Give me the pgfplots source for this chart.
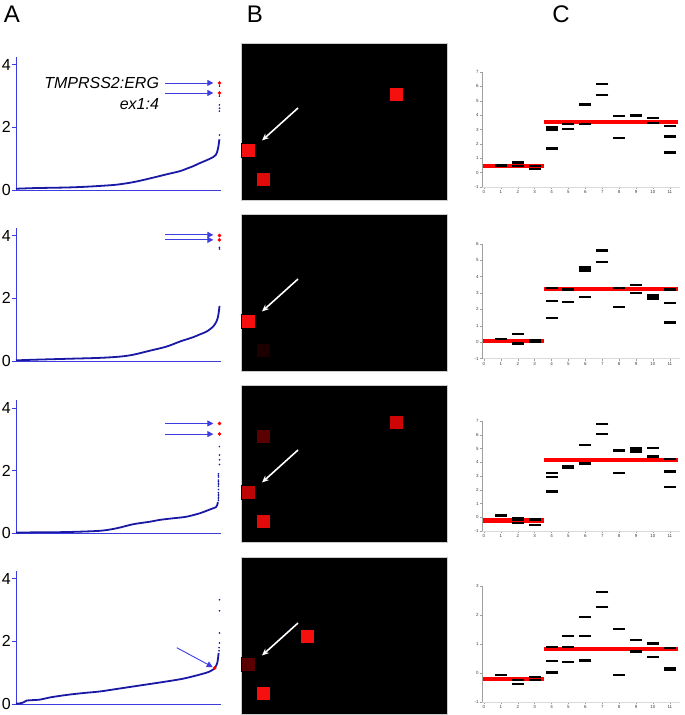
\documentclass[border=0pt]{standalone}
\usepackage{fontspec}
\setmainfont{Liberation Sans}
\setsansfont{Liberation Sans}
\usepackage{pgfplots}
\pgfplotsset{compat=1.18}
\usetikzlibrary{arrows.meta}
\definecolor{curveblue}{RGB}{25,25,165}
\definecolor{axblue}{RGB}{60,60,225}
\definecolor{sqA}{RGB}{245,15,15}
\definecolor{sqB}{RGB}{225,10,10}
\definecolor{sqdark}{RGB}{90,0,0}
\definecolor{sqfaint}{RGB}{28,0,0}
\definecolor{sqmid}{RGB}{190,5,5}
\definecolor{sqmid2}{RGB}{205,5,5}
\tikzset{
  aarrow/.style={axblue, line width=0.9pt, -{Triangle[length=6pt,width=6pt]}},
  warrow/.style={white, line width=1.6pt, -{Stealth[length=7pt,width=6pt]}},
}
\pgfplotsset{
  Apanel/.style={scale only axis, width=204.5pt, height=133pt,
    xmin=0, xmax=1, ymin=0, ymax=4.25, anchor=south west,
    axis x line=bottom, axis y line=left,
    axis line style={axblue,-,line width=0.8pt},
    xtick=\empty, ytick={0,2,4}, tick align=outside, major tick length=4pt,
    tick style={axblue,line width=0.8pt},
    /pgf/number format/assume math mode=true,
    yticklabel style={font=\fontsize{16}{16}\selectfont, text=black, inner sep=1pt},
    clip=false},
  curve/.style={curveblue, line width=1.8pt, no marks, smooth},
  bdots/.style={only marks, mark=*, mark size=0.6pt, curveblue},
  rdots/.style={only marks, mark=*, mark size=1.6pt, red},
  Bpanel/.style={scale only axis, width=206pt, height=157pt,
    xmin=0, xmax=206, ymin=0, ymax=157, y dir=reverse, anchor=north west,
    axis background/.style={fill=black}, xtick=\empty, ytick=\empty,
    axis line style={gray!40, line width=0.5pt}, clip=false},
  sq/.style={only marks, mark=square*, mark size=7pt, mark options={draw=none, fill=#1}},
  Cpanel/.style={scale only axis, width=197.7pt, xmin=-0.1, xmax=11.6, anchor=south west,
    axis x line=bottom, axis y line=left,
    y axis line style={gray!75,-,line width=0.4pt},
    x axis line style={gray!30,-,line width=0.4pt},
    xtick={0,...,11}, tick align=outside, major tick length=2pt,
    tick style={gray!75,line width=0.4pt},
    /pgf/number format/assume math mode=true,
    tick label style={font=\fontsize{4.5}{4.5}\selectfont, text=black!75, inner sep=1.5pt},
    clip=false},
  dash/.style={only marks, mark=-, mark size=6pt, mark options={line width=2.3pt}, black},
  redline/.style={red, line width=4.2pt, no marks},
}
\begin{document}
\begin{tikzpicture}
\useasboundingbox (0,0) rectangle (685pt,715pt);

% panel letters
\node[font=\fontsize{24}{24}\selectfont] at (12pt,701pt) {A};
\node[font=\fontsize{24}{24}\selectfont] at (255pt,701pt) {B};
\node[font=\fontsize{24}{24}\selectfont] at (561pt,701pt) {C};

% ---------------- Column A ----------------
\begin{axis}[Apanel, at={(16pt,525pt)}]
\addplot[curve] coordinates {(0.0,0.04) (0.085,0.06) (0.166,0.07) (0.248,0.08) (0.329,0.10) (0.41,0.13) (0.492,0.17) (0.573,0.25) (0.655,0.37) (0.736,0.50) (0.801,0.60) (0.834,0.68) (0.866,0.76) (0.899,0.86) (0.932,0.95) (0.964,1.05) (0.977,1.12) (0.985,1.25) (0.99,1.40) (0.993,1.55) (0.995,1.62)};
\addplot[bdots] coordinates {(0.995,1.76) (0.995,2.52) (0.995,2.61) (0.995,2.72) (0.995,3.0) (0.995,3.32)};
\addplot[rdots] coordinates {(0.995,3.1) (0.995,3.42)};
\draw[aarrow] (axis cs:0.729,3.42) -- (axis cs:0.965,3.42);
\draw[aarrow] (axis cs:0.729,3.1) -- (axis cs:0.965,3.1);
\node[anchor=east, font=\itshape\fontsize{16}{16}\selectfont, inner sep=0pt] at (axis cs:0.70,3.41) {TMPRSS2:ERG};
\node[anchor=east, font=\itshape\fontsize{16}{16}\selectfont, inner sep=0pt] at (axis cs:0.70,2.76) {ex1:4};
\end{axis}

\begin{axis}[Apanel, at={(16pt,354pt)}]
\addplot[curve] coordinates {(0.0,0.02) (0.085,0.04) (0.248,0.07) (0.41,0.10) (0.508,0.14) (0.573,0.20) (0.655,0.33) (0.736,0.46) (0.801,0.62) (0.866,0.76) (0.899,0.85) (0.932,0.94) (0.964,1.10) (0.98,1.26) (0.988,1.42) (0.993,1.63) (0.995,1.76)};
\addplot[bdots] coordinates {(0.995,3.58) (0.995,3.63)};
\addplot[rdots] coordinates {(0.995,3.87) (0.995,4.01)};
\draw[aarrow] (axis cs:0.729,4.03) -- (axis cs:0.965,4.03);
\draw[aarrow] (axis cs:0.729,3.87) -- (axis cs:0.965,3.87);
\end{axis}

\begin{axis}[Apanel, at={(16pt,181.7pt)}]
\addplot[curve] coordinates {(0.0,0.02) (0.085,0.03) (0.248,0.04) (0.41,0.08) (0.492,0.16) (0.573,0.29) (0.655,0.37) (0.704,0.43) (0.769,0.48) (0.834,0.53) (0.899,0.64) (0.932,0.72) (0.964,0.80) (0.977,0.83) (0.984,0.90) (0.987,1.0)};
\addplot[bdots] coordinates {(0.99,1.05) (0.99,1.1) (0.99,1.15) (0.99,1.2) (0.99,1.25) (0.99,1.3) (0.99,1.4) (0.99,1.5) (0.99,1.55) (0.99,1.6) (0.99,1.65) (0.99,1.7) (0.99,1.8) (0.99,1.85) (0.99,1.9) (0.995,2.2) (0.995,2.35) (0.995,2.5) (0.995,2.77)};
\addplot[rdots] coordinates {(0.995,3.17) (0.995,3.51)};
\draw[aarrow] (axis cs:0.729,3.51) -- (axis cs:0.965,3.51);
\draw[aarrow] (axis cs:0.729,3.17) -- (axis cs:0.965,3.17);
\end{axis}

\begin{axis}[Apanel, at={(16pt,11pt)}]
\addplot[curve] coordinates {(0.0,0.01) (0.02,0.02) (0.036,0.05) (0.052,0.11) (0.117,0.14) (0.166,0.21) (0.248,0.29) (0.329,0.35) (0.41,0.40) (0.492,0.48) (0.573,0.56) (0.655,0.64) (0.736,0.72) (0.818,0.81) (0.899,0.94) (0.948,1.04) (0.972,1.15) (0.984,1.31) (0.988,1.47) (0.991,1.63)};
\addplot[bdots] coordinates {(0.993,1.7) (0.993,1.8) (0.995,1.95) (0.995,2.27) (0.995,2.98) (0.995,3.33)};
\addplot[rdots] coordinates {(0.972,1.15)};
\draw[aarrow] (axis cs:0.786,1.80) -- (axis cs:0.962,1.18);
\end{axis}

% ---------------- Column B ----------------
\begin{axis}[Bpanel, at={(241pt,672pt)}]
\addplot[sq=sqA] coordinates {(7,107.5) (155,51)};
\addplot[sq=sqB] coordinates {(22,136)};
\draw[warrow] (axis cs:57,65) -- (axis cs:21,97.5);
\end{axis}

\begin{axis}[Bpanel, at={(241pt,501pt)}]
\addplot[sq=sqfaint] coordinates {(22,136)};
\addplot[sq=sqA] coordinates {(7,107.5)};
\draw[warrow] (axis cs:57,65) -- (axis cs:21,97.5);
\end{axis}

\begin{axis}[Bpanel, at={(241pt,330pt)}]
\addplot[sq=sqdark] coordinates {(22,51)};
\addplot[sq=sqmid] coordinates {(7,107.5)};
\addplot[sq=sqB] coordinates {(22,136.5)};
\addplot[sq=sqmid2] coordinates {(155,37)};
\draw[warrow] (axis cs:57,65) -- (axis cs:21,97.5);
\end{axis}

\begin{axis}[Bpanel, at={(241pt,158pt)}]
\addplot[sq=sqdark] coordinates {(7,107.5)};
\addplot[sq=sqA] coordinates {(22,136) (66,79)};
\draw[warrow] (axis cs:57,66) -- (axis cs:21,98.5);
\end{axis}

% ---------------- Column C ----------------
\begin{axis}[Cpanel, at={(482.3pt,528pt)}, height=115pt, ymin=-1, ymax=7, ytick={-1,...,7}]
\addplot[redline] coordinates {(-0.05,0.47) (3.55,0.47)};
\addplot[redline] coordinates {(3.55,3.51) (11.5,3.51)};
\addplot[dash] coordinates {(1,0.5) (2,0.7) (2,0.47) (3,0.47) (3,0.23) (4,3.19) (4,3.08) (4,2.95) (4,1.67) (5,3.37) (5,3.05) (6,4.74) (6,3.37) (7,6.16) (7,5.42) (8,3.95) (8,2.40) (9,4.03) (9,3.98) (10,3.79) (10,3.44) (11,3.26) (11,2.51) (11,1.40)};
\end{axis}

\begin{axis}[Cpanel, at={(482.3pt,356.3pt)}, height=115pt, ymin=-1, ymax=6, ytick={-1,...,6}]
\addplot[redline] coordinates {(-0.05,0.1) (3.55,0.1)};
\addplot[redline] coordinates {(3.55,3.22) (11.5,3.22)};
\addplot[dash] coordinates {(1,0.2) (2,0.49) (2,-0.08) (3,0.1) (3,0.0) (4,3.3) (4,2.5) (4,1.46) (5,3.22) (5,2.46) (6,4.56) (6,4.44) (6,4.34) (6,2.74) (7,5.58) (7,4.87) (8,3.31) (8,2.13) (9,3.49) (9,2.98) (10,2.88) (10,2.78) (10,2.66) (11,3.22) (11,2.39) (11,1.2)};
\end{axis}

\begin{axis}[Cpanel, at={(482.3pt,184pt)}, height=110pt, ymin=-1, ymax=7, ytick={-1,...,7}]
\addplot[redline] coordinates {(-0.05,-0.24) (3.55,-0.24)};
\addplot[redline] coordinates {(3.55,4.14) (11.5,4.14)};
\addplot[dash] coordinates {(1,0.12) (2,-0.07) (2,-0.19) (2,-0.44) (3,-0.17) (3,-0.56) (4,3.2) (4,2.91) (4,1.87) (5,3.72) (5,3.56) (6,5.27) (6,3.91) (7,6.8) (7,6.04) (8,4.85) (8,3.2) (9,5.05) (9,4.9) (9,4.76) (10,5.02) (10,4.42) (11,4.22) (11,3.33) (11,2.18)};
\end{axis}

\begin{axis}[Cpanel, at={(482.3pt,13pt)}, height=116pt, ymin=-1, ymax=3, ytick={-1,...,3}]
\addplot[redline] coordinates {(-0.05,-0.22) (3.55,-0.22)};
\addplot[redline] coordinates {(3.55,0.84) (11.5,0.84)};
\addplot[dash] coordinates {(1,-0.08) (2,-0.24) (2,-0.39) (3,-0.13) (3,-0.24) (4,0.9) (4,0.41) (4,0.02) (5,1.28) (5,0.9) (5,0.38) (6,1.92) (6,1.28) (6,0.43) (7,2.8) (7,2.28) (8,1.52) (8,-0.06) (9,1.15) (9,0.74) (10,1.02) (10,0.55) (11,0.87) (11,0.16) (11,0.12)};
\end{axis}
\end{tikzpicture}
\end{document}
